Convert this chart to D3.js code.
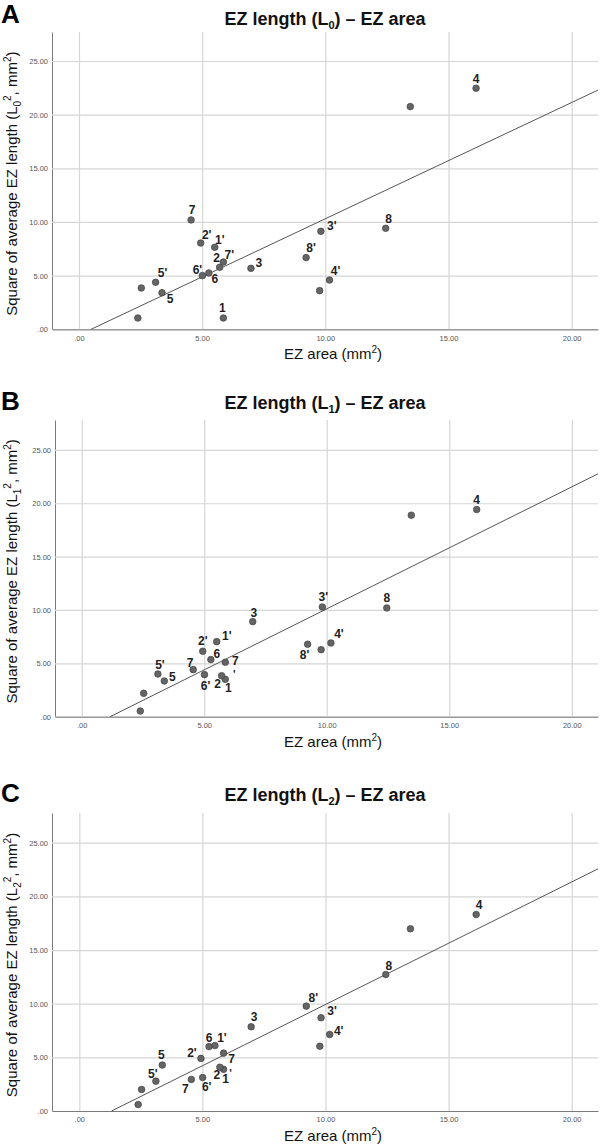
<!DOCTYPE html>
<html><head><meta charset="utf-8">
<script src="https://cdn.jsdelivr.net/npm/d3@7"></script>
<style>body{margin:0;background:#fff}svg{display:block}</style>
</head><body>
<svg id="chart" width="600" height="1145"></svg>
<script>
// ---------- data ----------
const pointIds = ["1","2","3","4","5","6","7","8","1'","2'","3'","4'","5'","6'","7'","8'","","","",""];
const ezArea   = [5.86,5.71,6.98,16.12,3.37,5.27,4.55,12.45,5.51,4.94,9.82,10.17,3.11,5.01,5.86,9.22,2.39,2.53,9.77,13.45];
const sqLenL0  = [1.05,5.78,5.68,22.46,3.41,5.25,10.19,9.41,7.64,8.04,9.13,4.59,4.38,5.00,6.27,6.68,1.05,3.85,3.60,20.75];
const sqLenL1  = [3.50,3.84,8.91,19.41,3.35,5.35,4.41,10.19,7.03,6.13,10.28,6.91,4.00,3.94,5.10,6.79,0.53,2.19,6.28,18.88];
const sqLenL2  = [3.88,4.08,7.85,18.31,4.28,6.00,2.94,12.72,6.10,4.90,8.69,7.13,2.78,3.12,5.39,9.77,0.60,2.01,6.04,16.98];
const fitL0 = {intercept: -0.53, slope: 1.083};
const fitL1 = {intercept: -1.326, slope: 1.143};
const fitL2 = {intercept: -1.496, slope: 1.142};
const xTicks = [0,5,10,15,20];
const yTicks = [0,5,10,15,20,25];
const panelLetters = ["A","B","C"];
const lengthSubs = ["0","1","2"];

// ---------- label placement (layout only) ----------
const nudgeA = [[-1,-10],[-3,-10],[8,-6],[0,-10],[8,6],[6,6],[1,-10],[3,-10],[5,-8],[6,-8],[11,-6],[6,-9],[7,-10],[-5,-6],[6,-7],[5,-10],[0,0],[0,0],[0,0],[0,0]];
const nudgeB = [[3,8],[-4,8],[1,-9],[0,-10],[8,-4],[6,-6],[-3,-7],[0,-10],[10,-6],[0,-11],[1,-10],[8,-9],[2,-9],[1,11],[10,-2],[-3,10],[0,0],[0,0],[0,0],[0,0]];
const nudgeC = [[2,9],[-3,7],[3,-10],[3,-10],[-1,-10],[0,-9],[-6,9],[3,-9],[7,-8],[-9,-6],[11,-7],[9,-4],[-3,-7],[4,9],[8,6],[7,-8],[0,0],[0,0],[0,0],[0,0]];
const splitPrime = [false, true, true]; // 7' label wraps in panels B and C

const panels = [
  {y: sqLenL0, fit: fitL0, nudge: nudgeA, xd:[-1.096,21.07], xr:[52,598], yd:[0,27.7], yr:[329.3,32], titleY:25, xTitleY:359},
  {y: sqLenL1, fit: fitL1, nudge: nudgeB, xd:[-1.09,21.07], xr:[55,598], yd:[0,27.8], yr:[716.7,420], titleY:409, xTitleY:747},
  {y: sqLenL2, fit: fitL2, nudge: nudgeC, xd:[-1.11,21.07], xr:[52,598], yd:[0,27.77], yr:[1111,813], titleY:801, xTitleY:1141}
];

const FONT = "'Liberation Sans', Arial, Helvetica, sans-serif";
const svg = d3.select("#chart").style("font-family", FONT);
const fmt = v => d3.format(".2f")(v).replace(/^0\./, ".");

panels.forEach((p, pi) => {
  const x = d3.scaleLinear().domain(p.xd).range(p.xr);
  const y = d3.scaleLinear().domain(p.yd).range(p.yr);
  const g = svg.append("g");
  const W = p.xr[1]-p.xr[0], H = p.yr[0]-p.yr[1];

  const ya = g.append("g").attr("transform", `translate(${p.xr[0]},0)`)
    .call(d3.axisLeft(y).tickValues(yTicks).tickFormat(fmt).tickSize(-W).tickSizeOuter(0).tickPadding(4));
  ya.selectAll(".tick line").attr("stroke", "#d6d6d6").attr("stroke-width", 1.2);
  ya.selectAll(".tick text").attr("font-size", 7.5).attr("fill", "#555").attr("font-family", FONT);

  const xa = g.append("g").attr("transform", `translate(0,${p.yr[0]})`)
    .call(d3.axisBottom(x).tickValues(xTicks).tickFormat(fmt).tickSize(-H).tickSizeOuter(0).tickPadding(6));
  xa.selectAll(".tick line").attr("stroke", "#d6d6d6").attr("stroke-width", 1.2);
  xa.selectAll(".tick text").attr("font-size", 7.5).attr("fill", "#555").attr("font-family", FONT);

  ya.select(".domain").attr("stroke", "#7a7a7a").attr("stroke-width", 1);
  xa.select(".domain").attr("stroke", "#7a7a7a").attr("stroke-width", 1);
  xa.raise();

  const x0 = -p.fit.intercept / p.fit.slope, x1 = p.xd[1];
  g.append("line")
    .attr("x1", x(x0)).attr("y1", y(0))
    .attr("x2", x(x1)).attr("y2", y(p.fit.intercept + p.fit.slope * x1))
    .attr("stroke", "#555").attr("stroke-width", 1);

  const data = ezArea.map((a, i) => ({a, v: p.y[i], id: pointIds[i], n: p.nudge[i]}));
  g.selectAll("circle.pt").data(data).join("circle")
    .attr("class", "pt")
    .attr("cx", d => x(d.a)).attr("cy", d => y(d.v)).attr("r", 3.3)
    .attr("fill", "#656565").attr("stroke", "#404040").attr("stroke-width", 0.7);

  const lab = g.selectAll("text.lbl").data(data.filter(d => d.id !== "")).join("text")
    .attr("class", "lbl")
    .attr("x", d => x(d.a) + d.n[0]).attr("y", d => y(d.v) + d.n[1])
    .attr("dy", "0.36em").attr("text-anchor", "middle")
    .attr("font-size", 12).attr("font-weight", "bold").attr("fill", "#1e1e1e");
  lab.each(function(d) {
    const t = d3.select(this);
    if (splitPrime[pi] && d.id === "7'") {
      t.text("7");
      g.append("text").attr("x", x(d.a) + d.n[0] - 1).attr("y", y(d.v) + d.n[1] + 14)
        .attr("dy", "0.36em").attr("text-anchor", "middle")
        .attr("font-size", 11).attr("font-weight", "bold").attr("fill", "#1e1e1e").text("'");
    } else t.text(d.id);
  });

  const tt = svg.append("text").attr("x", 325).attr("y", p.titleY).attr("text-anchor", "middle")
    .attr("font-size", 18).attr("font-weight", "bold").attr("fill", "#111");
  tt.append("tspan").text("EZ length (L");
  tt.append("tspan").attr("font-size", 11).attr("dy", 4).text(lengthSubs[pi]);
  tt.append("tspan").attr("dy", -4).text(") \u2013 EZ area");

  svg.append("text").attr("x", 1).attr("y", p.titleY + (pi === 0 ? -2 : 1))
    .attr("font-size", 26).attr("font-weight", "bold").attr("fill", "#000").text(panelLetters[pi]);

  const xt = svg.append("text").attr("x", 333).attr("y", p.xTitleY).attr("text-anchor", "middle")
    .attr("font-size", 15).attr("fill", "#111");
  xt.append("tspan").text("EZ area (mm");
  xt.append("tspan").attr("font-size", 10).attr("dy", -6).text("2");
  xt.append("tspan").attr("dy", 6).text(")");

  const cy = (p.yr[0] + p.yr[1]) / 2 + 3;
  const yt = svg.append("text").attr("transform", `translate(17,${cy}) rotate(-90)`)
    .attr("text-anchor", "middle").attr("font-size", 15).attr("fill", "#111");
  yt.append("tspan").text("Square of average EZ length (L");
  yt.append("tspan").attr("font-size", 10).attr("dy", 4).text(lengthSubs[pi]);
  yt.append("tspan").attr("font-size", 10).attr("dy", -10).text("2");
  yt.append("tspan").attr("dy", 6).text(", mm");
  yt.append("tspan").attr("font-size", 10).attr("dy", -6).text("2");
  yt.append("tspan").attr("dy", 6).text(")");
});
</script>
</body></html>
